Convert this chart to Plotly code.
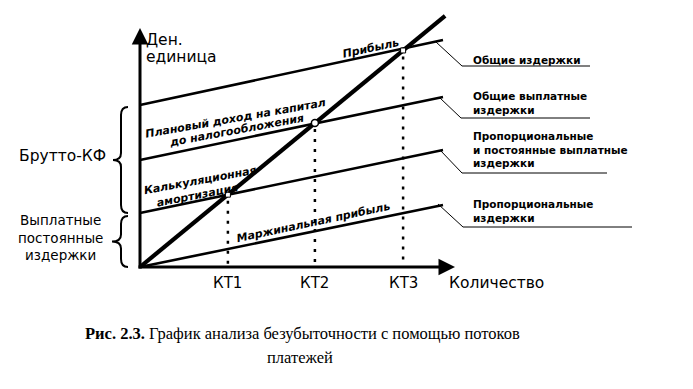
import numpy as np
import plotly.graph_objects as go

# ---- data (chart units) ----
quantity = [0, 101]
total_costs = [54, 75.7]
total_cash_costs = [35.7, 56.7]
prop_fixed_cash_costs = [18, 39]
proportional_costs = [0, 20.7]
revenue_x = [0, 101.7]
revenue_y = [0, 83.7]
kt_labels = ["КТ1", "КТ2", "КТ3"]
kt_x = [29.3, 58.3, 87.7]
right_labels = [
    "Общие издержки",
    "Общие выплатные<br>издержки",
    "Пропорциональные<br>и постоянные выплатные<br>издержки",
    "Пропорциональные<br>издержки",
]
x_axis_len = 105
y_axis_len = 79.7

# ---- layout helpers (pixel -> data) ----
W, H = 693, 389
X0, Y0, S = 140, 267, 3.0


def d(px, py):
    return ((px - X0) / S, (Y0 - py) / S)


fig = go.Figure()
BLACK = "#000000"

for ys, w in [(total_costs, 2.6), (total_cash_costs, 2.6),
              (prop_fixed_cash_costs, 2.6), (proportional_costs, 2.6)]:
    fig.add_trace(go.Scatter(x=quantity, y=ys, mode="lines",
                             line=dict(color=BLACK, width=w), hoverinfo="skip"))
fig.add_trace(go.Scatter(x=revenue_x, y=revenue_y, mode="lines",
                         line=dict(color=BLACK, width=4.2), hoverinfo="skip"))

# KT dotted verticals
kt_tops = [float(np.interp(k, revenue_x, revenue_y)) for k in kt_x]
for k, top in zip(kt_x, kt_tops):
    fig.add_trace(go.Scatter(x=[k, k], y=[top - 2, 0], mode="lines",
                             line=dict(color=BLACK, width=2.5, dash="3px,7px"),
                             hoverinfo="skip"))
# intersection markers
fig.add_trace(go.Scatter(x=[kt_x[1]], y=[kt_tops[1]], mode="markers",
                         marker=dict(symbol="circle", size=7, color="white",
                                     line=dict(color=BLACK, width=1.5)),
                         hoverinfo="skip"))
fig.add_trace(go.Scatter(x=[kt_x[2], kt_x[0]], y=[kt_tops[2], kt_tops[0]], mode="markers",
                         marker=dict(symbol="square", size=5, color="white",
                                     line=dict(color=BLACK, width=1)),
                         hoverinfo="skip"))

ann = []
# axes arrows
ann.append(dict(x=0, y=y_axis_len, ax=0, ay=-1, xref="x", yref="y", axref="x", ayref="y",
                showarrow=True, arrowhead=2, arrowsize=1.1, arrowwidth=3, arrowcolor=BLACK, text=""))
ann.append(dict(x=x_axis_len, y=0, ax=-1, ay=0, xref="x", yref="y", axref="x", ayref="y",
                showarrow=True, arrowhead=2, arrowsize=1.1, arrowwidth=3, arrowcolor=BLACK, text=""))

SANS = "DejaVu Sans, Arial, sans-serif"


def txt(px, py, text, size=15, anchor="center", angle=0, font=SANS, vanchor="middle"):
    x, y = d(px, py)
    ann.append(dict(x=x, y=y, xref="x", yref="y", text=text, showarrow=False,
                    xanchor=anchor, yanchor=vanchor, textangle=angle, align=anchor if anchor != "center" else "center",
                    borderpad=0,
                    font=dict(family=font, size=size, color=BLACK)))


txt(145, 40, "Ден.", anchor="left", size=15.5)
txt(145, 57, "единица", anchor="left", size=15.5)
txt(62, 156, "Брутто-КФ", size=15.5)
txt(60, 237, "Выплатные<br>постоянные<br>издержки", size=13.5)
for k, lab in zip(kt_x, kt_labels):
    px = X0 + k * S
    txt(px, 283, lab, size=15)
txt(448, 283, "Количество", anchor="left", size=15.5)

# line labels (rotated)
BI = 11
txt(370, 48, "<b><i>Прибыль</i></b>", size=BI, angle=-12)
txt(235, 118, "<b><i>Плановый доход на капитал</i></b>", size=BI, angle=-10)
txt(236, 130, "<b><i>до налогообложения</i></b>", size=BI, angle=-10.5)
txt(200, 180, "<b><i>Калькуляционная</i></b>", size=BI, angle=-10.5)
txt(197, 195, "<b><i>амортизация</i></b>", size=BI, angle=-11)
txt(313, 222, "<b><i>Маржинальная прибыль</i></b>", size=BI, angle=-12)

# right labels
RS = 10.5
txt(472, 60, "<b>" + right_labels[0] + "</b>", size=RS, anchor="left")
txt(472, 103, "<b>" + right_labels[1] + "</b>", size=RS, anchor="left")
txt(472, 149, "<b>" + right_labels[2] + "</b>", size=RS, anchor="left")
txt(472, 211, "<b>" + right_labels[3] + "</b>", size=RS, anchor="left")

# caption
SERIF = "Liberation Serif, Times New Roman, serif"
txt(302, 333, "<b>Рис. 2.3.</b> График анализа безубыточности с помощью потоков", size=16.5, font=SERIF)
txt(300, 357, "платежей", size=16.5, font=SERIF)

shapes = []


def poly(pts, width=1):
    p = []
    for i, (px, py) in enumerate(pts):
        x, y = d(px, py)
        p.append(("M" if i == 0 else "L") + f"{x:.3f},{y:.3f}")
    shapes.append(dict(type="path", path=" ".join(p), xref="x", yref="y",
                       line=dict(color=BLACK, width=width)))


poly([(436, 42), (462, 66), (590, 66)])
poly([(440, 98), (461, 118), (590, 118)])
poly([(440, 150), (462, 173), (607, 173)])
poly([(438, 204), (463, 227), (632, 227)])


def brace(xr, top, bot, tipx, width=2):
    mid = (top + bot) / 2
    xv = xr - 7
    segs = [("M", [(xr, top)]),
            ("Q", [(xv, top), (xv, top + 8)]),
            ("L", [(xv, mid - 7)]),
            ("Q", [(xv, mid), (tipx, mid)]),
            ("Q", [(xv, mid), (xv, mid + 7)]),
            ("L", [(xv, bot - 8)]),
            ("Q", [(xv, bot), (xr, bot)])]
    s = []
    for cmd, pts in segs:
        coords = " ".join(f"{d(px, py)[0]:.3f},{d(px, py)[1]:.3f}" for px, py in pts)
        s.append(cmd + coords)
    shapes.append(dict(type="path", path=" ".join(s), xref="x", yref="y",
                       line=dict(color=BLACK, width=width)))


brace(128, 107, 213, 113)
brace(128, 216, 267, 112)

fig.update_layout(
    width=W, height=H, margin=dict(l=0, r=0, t=0, b=0),
    paper_bgcolor="white", plot_bgcolor="white", showlegend=False,
    xaxis=dict(range=[-X0 / S, (W - X0) / S], visible=False, fixedrange=True),
    yaxis=dict(range=[-(H - Y0) / S, Y0 / S], visible=False, fixedrange=True),
    annotations=ann, shapes=shapes,
)
fig.write_html("out.html")
